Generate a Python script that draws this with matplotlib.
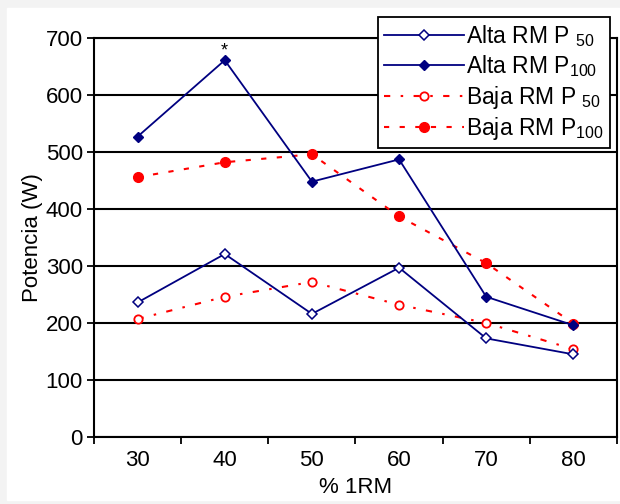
import matplotlib
matplotlib.use("Agg")
import matplotlib.pyplot as plt
from matplotlib.patches import Rectangle
import numpy as np

plt.rcParams['font.family'] = ['Liberation Sans', 'DejaVu Sans']
plt.rcParams['mathtext.fontset'] = 'custom'
plt.rcParams['mathtext.rm'] = 'Liberation Sans'
plt.rcParams['mathtext.it'] = 'Liberation Sans'

categorias = ['30', '40', '50', '60', '70', '80']
alta_p50 = [236, 321, 216, 297, 173, 145]
alta_p100 = [527, 661, 448, 487, 246, 196]
baja_p50 = [207, 246, 272, 232, 200, 154]
baja_p100 = [456, 482, 496, 387, 305, 199]

azul = '#000080'
rojo = '#ff0000'

fig = plt.figure(figsize=(6.2, 5.04), dpi=100, facecolor='#f3f3f3')
# panel blanco sobre el fondo gris
fig.patches.append(Rectangle((7 / 620, 4 / 504), 1, 1 - 12 / 504,
                             transform=fig.transFigure, color='white', zorder=-5))

ax = fig.add_axes([94 / 620, 1 - 437 / 504, 523 / 620, 399 / 504])
ax.set_facecolor('white')
x = np.arange(len(categorias))

ax.plot(x, alta_p50, color=azul, lw=1.3, marker='D', ms=5.5, mfc='white',
        mec=azul, mew=1.1, label='Alta RM P $_{50}$', zorder=4)
ax.plot(x, alta_p100, color=azul, lw=1.3, marker='D', ms=5.5, mfc=azul,
        mec=azul, label='Alta RM P$_{100}$', zorder=4)
ax.plot(x, baja_p50, color=rojo, lw=1.5, ls=(0, (3, 5, 1.2, 5)), marker='o', ms=6,
        mfc='white', mec=rojo, mew=1.3, label='Baja RM P $_{50}$', zorder=3)
ax.plot(x, baja_p100, color=rojo, lw=1.5, ls=(0, (2.5, 5)), marker='o', ms=7,
        mfc=rojo, mec=rojo, label='Baja RM P$_{100}$', zorder=3)

# asterisco sobre el pico de 40 %
ax.text(1, 662, '*', ha='center', va='bottom', fontsize=13)

ax.set_xlim(-0.5, len(categorias) - 0.5)
ax.set_ylim(0, 700)
ax.set_yticks(range(0, 701, 100))
ax.set_xticks(x)
ax.set_xticklabels(categorias)
ax.set_xticks(np.arange(-0.5, len(categorias)), minor=True)
ax.tick_params(axis='x', which='major', length=0, pad=9, labelsize=16)
ax.tick_params(axis='x', which='minor', length=5, width=1.3, direction='out')
ax.tick_params(axis='y', length=5, width=1.3, direction='out', pad=3, labelsize=16)
ax.grid(axis='y', color='black', lw=1.5, zorder=1)
for s in ax.spines.values():
    s.set_linewidth(1.5)

ax.set_xlabel('% 1RM', fontsize=16, labelpad=5)
ax.set_ylabel('Potencia (W)', fontsize=16, labelpad=2)

leg = fig.legend(loc='upper left', bbox_to_anchor=(378 / 620, 1 - 17 / 504),
                 fontsize=16.5, frameon=True, fancybox=False, framealpha=1,
                 edgecolor='black', handlelength=3.5, borderpad=0.25,
                 labelspacing=0.2, handletextpad=0.1, borderaxespad=0)
leg.get_frame().set_linewidth(1.3)

fig.savefig('out.png', dpi=100, facecolor=fig.get_facecolor())
